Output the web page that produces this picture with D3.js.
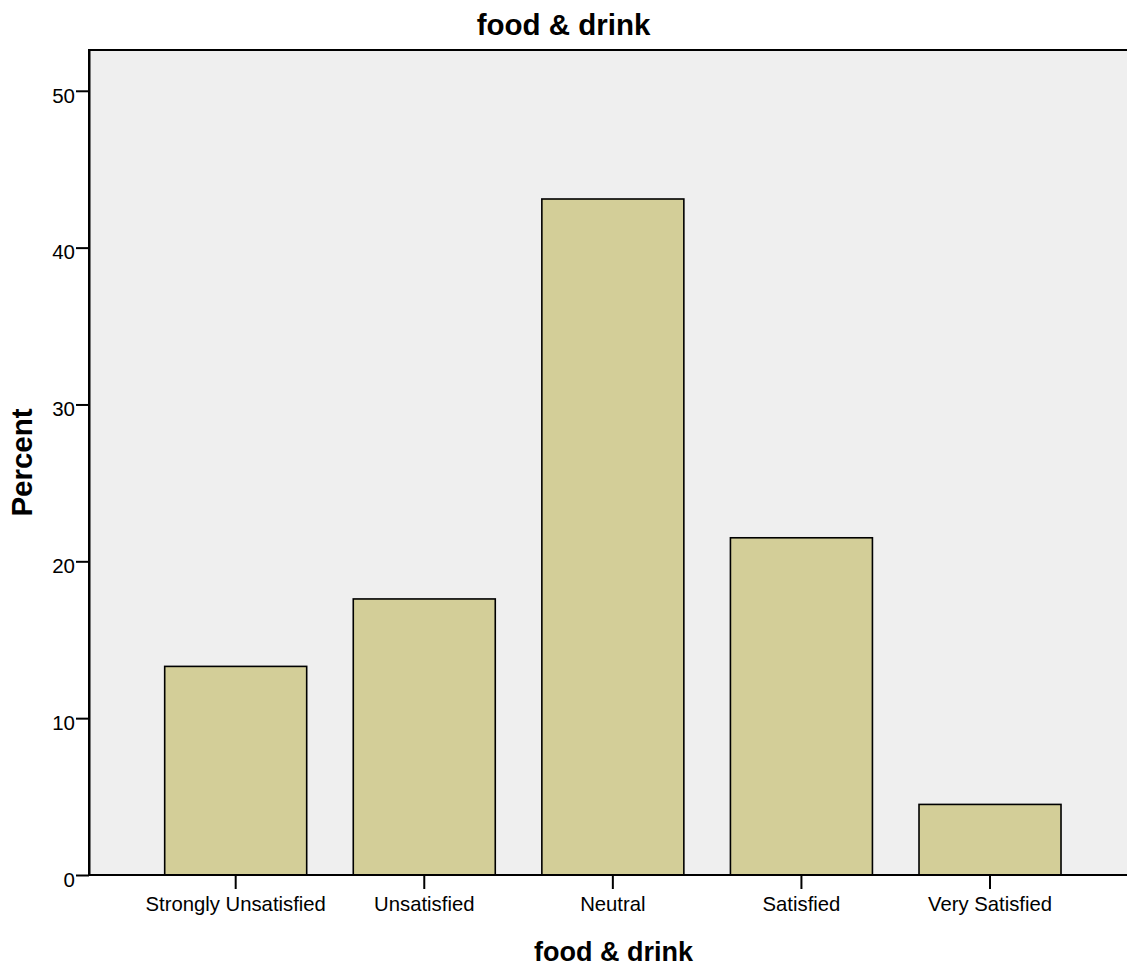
<!DOCTYPE html>
<html>
<head>
<meta charset="utf-8">
<script src="https://cdn.jsdelivr.net/npm/d3@7"></script>
<style>
  html, body { margin: 0; padding: 0; background: #fff; }
  svg { display: block; font-family: "Liberation Sans", Arial, sans-serif; }
</style>
</head>
<body>
<svg id="chart" width="1127" height="967"></svg>
<script>
const categories = ["Strongly Unsatisfied", "Unsatisfied", "Neutral", "Satisfied", "Very Satisfied"];
const percents = [13.3, 17.6, 43.1, 21.5, 4.5];
const yTicks = [0, 10, 20, 30, 40, 50];
const chartTitle = "food & drink";
const xTitle = "food & drink";
const yTitle = "Percent";

const svg = d3.select("#chart");
const W = 1127, H = 967;
const plot = { left: 89, top: 50, right: 1137, bottom: 875 };

const y = d3.scaleLinear().domain([0, 52.6]).range([plot.bottom, plot.top]);
const x = d3.scaleBand().domain(categories)
  .range([141.4, 1084.3]).paddingInner(0.247).paddingOuter(0.1235);

// plot background
svg.append("rect")
  .attr("x", plot.left).attr("y", plot.top)
  .attr("width", plot.right - plot.left).attr("height", plot.bottom - plot.top)
  .attr("fill", "#efefef").attr("stroke", "#000").attr("stroke-width", 2);

// bars
svg.append("g").selectAll("rect").data(categories).join("rect")
  .attr("x", d => x(d))
  .attr("y", (d, i) => y(percents[i]))
  .attr("width", x.bandwidth())
  .attr("height", (d, i) => y(0) - y(percents[i]))
  .attr("fill", "#d3ce98")
  .attr("stroke", "#000").attr("stroke-width", 1.6);

// y axis
const yAxis = svg.append("g").attr("transform", `translate(${plot.left},0)`)
  .call(d3.axisLeft(y).tickValues(yTicks).tickSize(13).tickSizeOuter(0).tickPadding(1).tickFormat(d3.format("d")));
yAxis.select(".domain").attr("stroke", "#000").attr("stroke-width", 2);
yAxis.selectAll(".tick line").attr("stroke", "#000").attr("stroke-width", 2);
yAxis.selectAll(".tick text").attr("font-size", 20.5).attr("fill", "#000")
  .attr("font-family", "Liberation Sans, Arial, sans-serif").attr("dy", "0.55em");

// x axis
const xAxis = svg.append("g").attr("transform", `translate(0,${plot.bottom})`)
  .call(d3.axisBottom(x).tickSize(14).tickPadding(8).tickSizeOuter(0));
xAxis.select(".domain").attr("stroke", "#000").attr("stroke-width", 2)
  .attr("d", `M${plot.left},0H${plot.right}`);
xAxis.selectAll(".tick line").attr("stroke", "#000").attr("stroke-width", 2);
xAxis.selectAll(".tick text").attr("font-size", 20.3).attr("fill", "#000")
  .attr("font-family", "Liberation Sans, Arial, sans-serif");

// titles
svg.append("text").attr("x", W / 2).attr("y", 35)
  .attr("text-anchor", "middle").attr("font-size", 29.5).attr("font-weight", "bold")
  .text(chartTitle);

svg.append("text").attr("x", (plot.left + plot.right) / 2 + 0.5).attr("y", 961)
  .attr("text-anchor", "middle").attr("font-size", 27).attr("font-weight", "bold")
  .text(xTitle);

svg.append("text")
  .attr("transform", `translate(32,${(plot.top + plot.bottom) / 2}) rotate(-90)`)
  .attr("text-anchor", "middle").attr("font-size", 29.5).attr("font-weight", "bold")
  .text(yTitle);
</script>
</body>
</html>
